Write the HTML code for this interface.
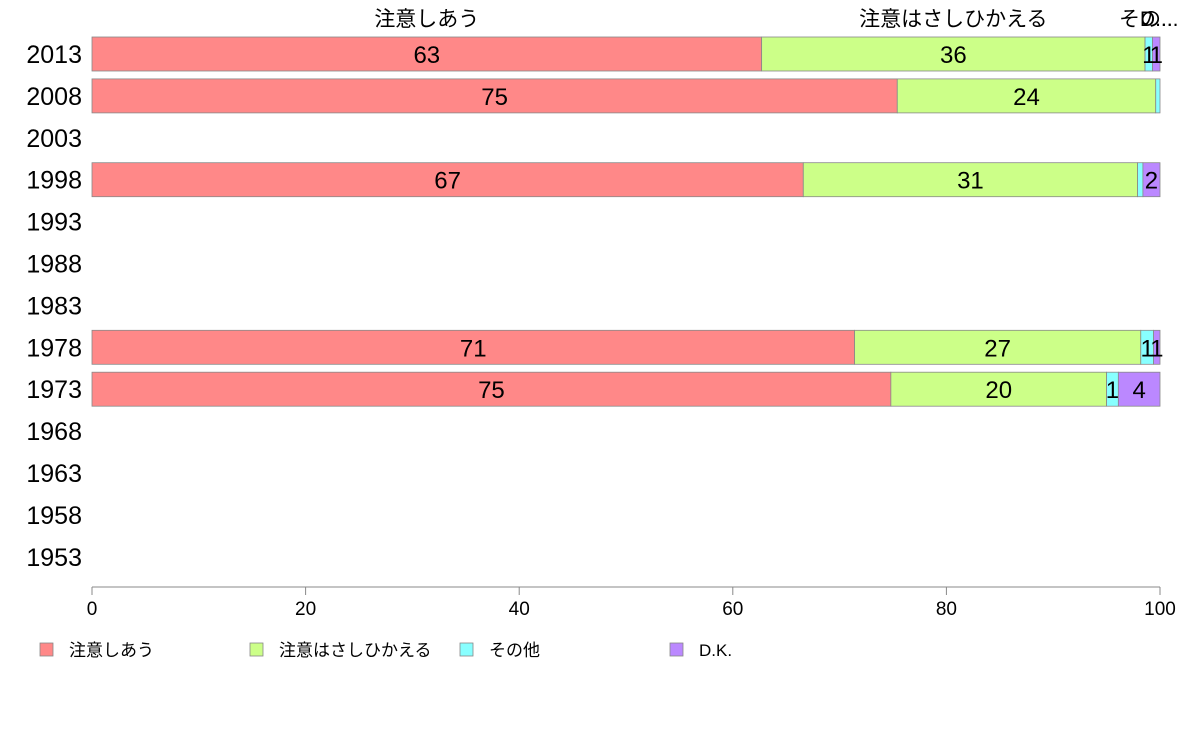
<!DOCTYPE html>
<html><head><meta charset="utf-8">
<style>
body{margin:0;background:#fff;width:1188px;height:736px;overflow:hidden;font-family:"Liberation Sans","Noto Sans CJK JP",sans-serif;}
svg text{font-family:"Liberation Sans","Noto Sans CJK JP",sans-serif;}
</style></head><body>
<svg id="chart" width="1188" height="736"></svg>
<script>
const years=["2013","2008","2003","1998","1993","1988","1983","1978","1973","1968","1963","1958","1953"];
const seriesNames=["注意しあう","注意はさしひかえる","その他","D.K."];
const s1=[62.7,75.4,null,66.6,null,null,null,71.4,74.8,null,null,null,null];
const s2=[35.9,24.2,null,31.3,null,null,null,26.8,20.2,null,null,null,null];
const s3=[0.7,0.4,null,0.5,null,null,null,1.2,1.1,null,null,null,null];
const s4=[0.7,0.0,null,1.6,null,null,null,0.6,3.9,null,null,null,null];
const xTicks=[0,20,40,60,80,100];
const colors=["#FF8888","#CCFF88","#88FFFF","#BB88FF"];
const NS="http://www.w3.org/2000/svg";
const svg=document.getElementById('chart');
const x=v=>92+v*(1160-92)/100;
const y=i=>54+i*41.9;
const bh=34;
function mk(t,a,txt){const e=document.createElementNS(NS,t);for(const k in a)e.setAttribute(k,a[k]);if(txt!=null)e.textContent=txt;svg.appendChild(e);return e;}
const series=[s1,s2,s3,s4];
years.forEach((yr,i)=>{
  const l=mk('text',{x:82,y:y(i)+9,'text-anchor':'end','font-size':25,fill:'#000'},yr);
  
  
  if(s1[i]==null)return;
  let acc=0;
  series.forEach((s,k)=>{
    const v=s[i];
    const r=mk('rect',{x:x(acc),y:y(i)-bh/2,width:x(acc+v)-x(acc),height:bh,fill:colors[k],stroke:'#888','stroke-width':0.8});
    
    
    if(v>=0.6){
      const t=mk('text',{x:(x(acc)+x(acc+v))/2,y:y(i)+9,'text-anchor':'middle','font-size':24,fill:'#000'},Math.round(v));
      
      
    }
    acc+=v;
  });
});
// top header labels from first row
(function(){
  let acc=0;const lbl=["注意しあう","注意はさしひかえる","その...","D..."];
  series.forEach((s,k)=>{const v=s[0];
    const t=mk('text',{x:(x(acc)+x(acc+v))/2,y:26,'text-anchor':'middle','font-size':21,fill:'#000'},lbl[k]);
    
    
    acc+=v;});
})();
const ax=mk('line',{x1:x(0),x2:x(100),y1:587,y2:587,stroke:'#888'});


xTicks.forEach(v=>{
  const tk=mk('line',{x1:x(v),x2:x(v),y1:587,y2:595,stroke:'#888'});
  
  
  const t=mk('text',{x:x(v),y:615,'text-anchor':'middle','font-size':19,fill:'#000'},v);
  
  
});
seriesNames.forEach((n,k)=>{
  const lx=40+k*210;
  const r=mk('rect',{x:lx,y:643,width:13,height:13,fill:colors[k],stroke:'#888','stroke-width':0.8});
  
  
  const t=mk('text',{x:lx+29,y:656,'font-size':17,fill:'#000'},n);
  
  
});
</script>
</body></html>
